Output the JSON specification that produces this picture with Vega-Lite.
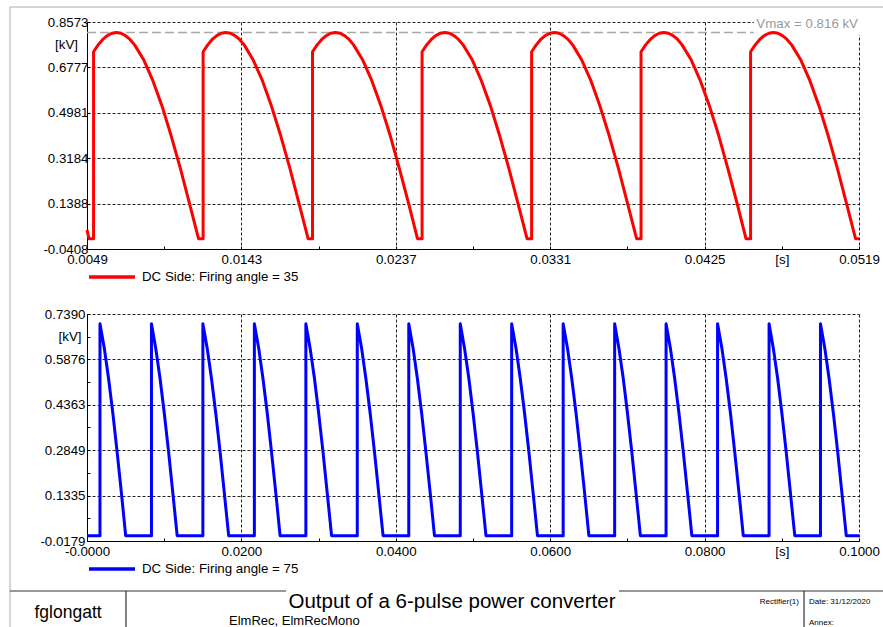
{
  "$schema": "https://vega.github.io/schema/vega-lite/v6.json",
  "padding": {"left": 9, "top": 6, "right": 0, "bottom": 0},
  "background": "white",
  "spacing": 65,
  "bounds": "flush",
  "resolve": {
    "scale": {"x": "independent", "y": "independent", "color": "independent"},
    "axis": {"x": "independent", "y": "independent"},
    "legend": {"color": "independent"}
  },
  "config": {
    "view": {"stroke": null},
    "font": "Liberation Sans",
    "axis": {
      "title": null, "domainColor": "#000", "domainWidth": 1,
      "tickColor": "#000", "tickWidth": 1, "tickSize": -3,
      "labelFont": "Liberation Sans", "labelFontSize": 13.3, "labelColor": "#000",
      "labelOverlap": false, "labelFlush": false, "labelBound": false,
      "grid": true, "gridColor": "#222", "gridDash": [3, 2], "gridWidth": 1
    },
    "axisX": {"labelPadding": 6, "labelBaseline": "top"},
    "legend": {
      "orient": "none", "symbolType": "stroke", "symbolSize": 2116, "symbolStrokeWidth": 3.5,
      "labelFont": "Liberation Sans", "labelFontSize": 13.3, "labelColor": "#000",
      "labelOffset": 5, "padding": 0, "title": null
    }
  },
  "vconcat": [
    {
      "width": 772, "height": 227,
      "layer": [
        {
          "data": {"values": [{}]},
          "mark": {"type": "text", "align": "right", "baseline": "middle", "fontSize": 13.3, "color": "#000", "dx": -9},
          "encoding": {
            "x": {"datum": 0.0049, "type": "quantitative"},
            "y": {"datum": 0.7675, "type": "quantitative"},
            "text": {"value": "[kV]"}
          }
        },
        {
          "data": {"values": [{}]},
          "mark": {"type": "rect", "fill": "white"},
          "encoding": {
            "x": {"datum": 0.0455, "type": "quantitative"}, "x2": {"datum": 0.0526},
            "y": {"datum": 0.8055, "type": "quantitative"}, "y2": {"datum": 0.885}
          }
        },
        {
          "data": {"values": [{}]},
          "mark": {"type": "rule", "stroke": "#a8a8a8", "strokeWidth": 1.5, "strokeDash": [9, 4]},
          "encoding": {
            "x": {"datum": 0.0049, "type": "quantitative"}, "x2": {"datum": 0.0455},
            "y": {"datum": 0.816, "type": "quantitative"}
          }
        },
        {
          "data": {"values": [{}]},
          "mark": {"type": "text", "align": "right", "baseline": "middle", "fontSize": 13.3, "color": "#999999", "dx": -1},
          "encoding": {
            "x": {"datum": 0.0519, "type": "quantitative"},
            "y": {"datum": 0.848, "type": "quantitative"},
            "text": {"value": "Vmax = 0.816 kV"}
          }
        },
        {
          "data": {"values": [
            {"t":0.0049,"v":0.035},{"t":0.00502,"v":0},{"t":0.0053,"v":0},
            {"t":0.0053,"v":0.7395},{"t":0.00558,"v":0.7668},{"t":0.00586,"v":0.7882},{"t":0.00613,"v":0.8036},{"t":0.00641,"v":0.8129},{"t":0.00669,"v":0.816},{"t":0.00697,"v":0.8129},{"t":0.00724,"v":0.8036},{"t":0.00752,"v":0.7882},{"t":0.0078,"v":0.7668},{"t":0.00836,"v":0.7067},{"t":0.00891,"v":0.6251},{"t":0.00947,"v":0.5245},{"t":0.01002,"v":0.408},{"t":0.01058,"v":0.2791},{"t":0.01113,"v":0.1417},{"t":0.01169,"v":0},{"t":0.01197,"v":0},
            {"t":0.01197,"v":0.7395},{"t":0.01225,"v":0.7668},{"t":0.01252,"v":0.7882},{"t":0.0128,"v":0.8036},{"t":0.01308,"v":0.8129},{"t":0.01336,"v":0.816},{"t":0.01363,"v":0.8129},{"t":0.01391,"v":0.8036},{"t":0.01419,"v":0.7882},{"t":0.01447,"v":0.7668},{"t":0.01502,"v":0.7067},{"t":0.01558,"v":0.6251},{"t":0.01613,"v":0.5245},{"t":0.01669,"v":0.408},{"t":0.01725,"v":0.2791},{"t":0.0178,"v":0.1417},{"t":0.01836,"v":0},{"t":0.01863,"v":0},
            {"t":0.01863,"v":0.7395},{"t":0.01891,"v":0.7668},{"t":0.01919,"v":0.7882},{"t":0.01947,"v":0.8036},{"t":0.01974,"v":0.8129},{"t":0.02002,"v":0.816},{"t":0.0203,"v":0.8129},{"t":0.02058,"v":0.8036},{"t":0.02086,"v":0.7882},{"t":0.02113,"v":0.7668},{"t":0.02169,"v":0.7067},{"t":0.02224,"v":0.6251},{"t":0.0228,"v":0.5245},{"t":0.02336,"v":0.408},{"t":0.02391,"v":0.2791},{"t":0.02447,"v":0.1417},{"t":0.02502,"v":0},{"t":0.0253,"v":0},
            {"t":0.0253,"v":0.7395},{"t":0.02558,"v":0.7668},{"t":0.02586,"v":0.7882},{"t":0.02613,"v":0.8036},{"t":0.02641,"v":0.8129},{"t":0.02669,"v":0.816},{"t":0.02697,"v":0.8129},{"t":0.02724,"v":0.8036},{"t":0.02752,"v":0.7882},{"t":0.0278,"v":0.7668},{"t":0.02836,"v":0.7067},{"t":0.02891,"v":0.6251},{"t":0.02947,"v":0.5245},{"t":0.03002,"v":0.408},{"t":0.03058,"v":0.2791},{"t":0.03113,"v":0.1417},{"t":0.03169,"v":0},{"t":0.03197,"v":0},
            {"t":0.03197,"v":0.7395},{"t":0.03225,"v":0.7668},{"t":0.03252,"v":0.7882},{"t":0.0328,"v":0.8036},{"t":0.03308,"v":0.8129},{"t":0.03336,"v":0.816},{"t":0.03363,"v":0.8129},{"t":0.03391,"v":0.8036},{"t":0.03419,"v":0.7882},{"t":0.03447,"v":0.7668},{"t":0.03502,"v":0.7067},{"t":0.03558,"v":0.6251},{"t":0.03613,"v":0.5245},{"t":0.03669,"v":0.408},{"t":0.03725,"v":0.2791},{"t":0.0378,"v":0.1417},{"t":0.03836,"v":0},{"t":0.03863,"v":0},
            {"t":0.03863,"v":0.7395},{"t":0.03891,"v":0.7668},{"t":0.03919,"v":0.7882},{"t":0.03947,"v":0.8036},{"t":0.03974,"v":0.8129},{"t":0.04002,"v":0.816},{"t":0.0403,"v":0.8129},{"t":0.04058,"v":0.8036},{"t":0.04086,"v":0.7882},{"t":0.04113,"v":0.7668},{"t":0.04169,"v":0.7067},{"t":0.04224,"v":0.6251},{"t":0.0428,"v":0.5245},{"t":0.04336,"v":0.408},{"t":0.04391,"v":0.2791},{"t":0.04447,"v":0.1417},{"t":0.04502,"v":0},{"t":0.0453,"v":0},
            {"t":0.0453,"v":0.7395},{"t":0.04558,"v":0.7668},{"t":0.04586,"v":0.7882},{"t":0.04613,"v":0.8036},{"t":0.04641,"v":0.8129},{"t":0.04669,"v":0.816},{"t":0.04697,"v":0.8129},{"t":0.04724,"v":0.8036},{"t":0.04752,"v":0.7882},{"t":0.0478,"v":0.7668},{"t":0.04836,"v":0.7067},{"t":0.04891,"v":0.6251},{"t":0.04947,"v":0.5245},{"t":0.05002,"v":0.408},{"t":0.05058,"v":0.2791},{"t":0.05113,"v":0.1417},{"t":0.05169,"v":0},{"t":0.0519,"v":0}
          ]},
          "mark": {"type": "line", "strokeWidth": 3, "strokeJoin": "round"},
          "encoding": {
            "x": {
              "field": "t", "type": "quantitative",
              "scale": {"domain": [0.0049, 0.0519], "nice": false, "zero": false},
              "axis": {
                "values": [0.0049, 0.0096, 0.0143, 0.019, 0.0237, 0.0284, 0.0331, 0.0378, 0.0425, 0.0472, 0.0519],
                "labelExpr": "abs(datum.value - 0.0472) < 0.00001 ? '[s]' : (indexof([0.0049, 0.0143, 0.0237, 0.0331, 0.0425, 0.0519], datum.value) >= 0 ? format(datum.value, '.4f') : '')",
                "gridOpacity": {"condition": {"test": "indexof([0.0049, 0.0143, 0.0237, 0.0331, 0.0425, 0.0519], datum.value) < 0", "value": 0}, "value": 1}
              }
            },
            "y": {
              "field": "v", "type": "quantitative",
              "scale": {"domain": [-0.0408, 0.8573], "nice": false, "zero": false},
              "axis": {
                "values": [0.8573, 0.7675, 0.6777, 0.5879, 0.4981, 0.4083, 0.3184, 0.2286, 0.1388, 0.049, -0.0408],
                "labelExpr": "indexof([0.8573, 0.6777, 0.4981, 0.3184, 0.1388, -0.0408], datum.value) >= 0 ? (datum.value < 0 ? '-' : '') + format(abs(datum.value), '.4f') : ''",
                "gridOpacity": {"condition": {"test": "indexof([0.8573, 0.6777, 0.4981, 0.3184, 0.1388, -0.0408], datum.value) < 0", "value": 0}, "value": 1}
              }
            },
            "order": {"value": null},
            "color": {
              "datum": "DC Side: Firing angle = 35", "type": "nominal",
              "scale": {"range": ["#ff0000"]},
              "legend": {"legendX": 0, "legendY": 230}
            }
          }
        }
      ]
    },
    {
      "width": 772, "height": 227,
      "data": {"values": [
        {"t":0,"v":0},
        {"t":0.00168,"v":0},{"t":0.00168,"v":0.7067},{"t":0.00224,"v":0.6251},{"t":0.00279,"v":0.5245},{"t":0.00335,"v":0.408},{"t":0.0039,"v":0.2791},{"t":0.00446,"v":0.1417},{"t":0.00501,"v":0},
        {"t":0.00835,"v":0},{"t":0.00835,"v":0.7067},{"t":0.0089,"v":0.6251},{"t":0.00946,"v":0.5245},{"t":0.01001,"v":0.408},{"t":0.01057,"v":0.2791},{"t":0.01112,"v":0.1417},{"t":0.01168,"v":0},
        {"t":0.01501,"v":0},{"t":0.01501,"v":0.7067},{"t":0.01557,"v":0.6251},{"t":0.01612,"v":0.5245},{"t":0.01668,"v":0.408},{"t":0.01724,"v":0.2791},{"t":0.01779,"v":0.1417},{"t":0.01835,"v":0},
        {"t":0.02168,"v":0},{"t":0.02168,"v":0.7067},{"t":0.02224,"v":0.6251},{"t":0.02279,"v":0.5245},{"t":0.02335,"v":0.408},{"t":0.0239,"v":0.2791},{"t":0.02446,"v":0.1417},{"t":0.02501,"v":0},
        {"t":0.02835,"v":0},{"t":0.02835,"v":0.7067},{"t":0.0289,"v":0.6251},{"t":0.02946,"v":0.5245},{"t":0.03001,"v":0.408},{"t":0.03057,"v":0.2791},{"t":0.03112,"v":0.1417},{"t":0.03168,"v":0},
        {"t":0.03501,"v":0},{"t":0.03501,"v":0.7067},{"t":0.03557,"v":0.6251},{"t":0.03612,"v":0.5245},{"t":0.03668,"v":0.408},{"t":0.03724,"v":0.2791},{"t":0.03779,"v":0.1417},{"t":0.03835,"v":0},
        {"t":0.04168,"v":0},{"t":0.04168,"v":0.7067},{"t":0.04224,"v":0.6251},{"t":0.04279,"v":0.5245},{"t":0.04335,"v":0.408},{"t":0.0439,"v":0.2791},{"t":0.04446,"v":0.1417},{"t":0.04501,"v":0},
        {"t":0.04835,"v":0},{"t":0.04835,"v":0.7067},{"t":0.0489,"v":0.6251},{"t":0.04946,"v":0.5245},{"t":0.05001,"v":0.408},{"t":0.05057,"v":0.2791},{"t":0.05112,"v":0.1417},{"t":0.05168,"v":0},
        {"t":0.05501,"v":0},{"t":0.05501,"v":0.7067},{"t":0.05557,"v":0.6251},{"t":0.05612,"v":0.5245},{"t":0.05668,"v":0.408},{"t":0.05724,"v":0.2791},{"t":0.05779,"v":0.1417},{"t":0.05835,"v":0},
        {"t":0.06168,"v":0},{"t":0.06168,"v":0.7067},{"t":0.06224,"v":0.6251},{"t":0.06279,"v":0.5245},{"t":0.06335,"v":0.408},{"t":0.0639,"v":0.2791},{"t":0.06446,"v":0.1417},{"t":0.06501,"v":0},
        {"t":0.06835,"v":0},{"t":0.06835,"v":0.7067},{"t":0.0689,"v":0.6251},{"t":0.06946,"v":0.5245},{"t":0.07001,"v":0.408},{"t":0.07057,"v":0.2791},{"t":0.07112,"v":0.1417},{"t":0.07168,"v":0},
        {"t":0.07501,"v":0},{"t":0.07501,"v":0.7067},{"t":0.07557,"v":0.6251},{"t":0.07612,"v":0.5245},{"t":0.07668,"v":0.408},{"t":0.07724,"v":0.2791},{"t":0.07779,"v":0.1417},{"t":0.07835,"v":0},
        {"t":0.08168,"v":0},{"t":0.08168,"v":0.7067},{"t":0.08224,"v":0.6251},{"t":0.08279,"v":0.5245},{"t":0.08335,"v":0.408},{"t":0.0839,"v":0.2791},{"t":0.08446,"v":0.1417},{"t":0.08501,"v":0},
        {"t":0.08835,"v":0},{"t":0.08835,"v":0.7067},{"t":0.0889,"v":0.6251},{"t":0.08946,"v":0.5245},{"t":0.09001,"v":0.408},{"t":0.09057,"v":0.2791},{"t":0.09112,"v":0.1417},{"t":0.09168,"v":0},
        {"t":0.09501,"v":0},{"t":0.09501,"v":0.7067},{"t":0.09557,"v":0.6251},{"t":0.09612,"v":0.5245},{"t":0.09668,"v":0.408},{"t":0.09724,"v":0.2791},{"t":0.09779,"v":0.1417},{"t":0.09835,"v":0},
        {"t":0.1,"v":0}
      ]},
      "mark": {"type": "line", "strokeWidth": 3, "strokeJoin": "round"},
      "encoding": {
        "x": {
          "field": "t", "type": "quantitative",
          "scale": {"domain": [0, 0.1], "nice": false, "zero": false},
          "axis": {
            "values": [0, 0.01, 0.02, 0.03, 0.04, 0.05, 0.06, 0.07, 0.08, 0.09, 0.1],
            "labelExpr": "datum.value == 0 ? '-0.0000' : (abs(datum.value - 0.09) < 0.00001 ? '[s]' : (indexof([0.02, 0.04, 0.06, 0.08, 0.1], datum.value) >= 0 ? format(datum.value, '.4f') : ''))",
            "gridOpacity": {"condition": {"test": "indexof([0, 0.02, 0.04, 0.06, 0.08, 0.1], datum.value) < 0", "value": 0}, "value": 1}
          }
        },
        "y": {
          "field": "v", "type": "quantitative",
          "scale": {"domain": [-0.0179, 0.739], "nice": false, "zero": false},
          "axis": {
            "values": [0.739, 0.6633, 0.5876, 0.5119, 0.4363, 0.3606, 0.2849, 0.2092, 0.1335, 0.0578, -0.0179],
            "labelExpr": "abs(datum.value - 0.6633) < 0.00001 ? '[kV]' : (indexof([0.739, 0.5876, 0.4363, 0.2849, 0.1335, -0.0179], datum.value) >= 0 ? (datum.value < 0 ? '-' : '') + format(abs(datum.value), '.4f') : '')",
            "labelPadding": {"condition": {"test": "abs(datum.value - 0.6633) < 0.00001", "value": 9}, "value": 5},
            "gridOpacity": {"condition": {"test": "indexof([0.739, 0.5876, 0.4363, 0.2849, 0.1335, -0.0179], datum.value) < 0", "value": 0}, "value": 1}
          }
        },
        "order": {"value": null},
        "color": {
          "datum": "DC Side: Firing angle = 75", "type": "nominal",
          "scale": {"range": ["#0000ff"]},
          "legend": {"legendX": 0, "legendY": 230}
        }
      }
    },
    {
      "width": 772, "height": 22,
      "data": {"values": [{}]},
      "layer": [
        {
          "mark": {"type": "rule", "stroke": "#aaaaaa", "strokeWidth": 1},
          "encoding": {
            "x": {"datum": 0, "type": "quantitative", "scale": {"domain": [0.0881, 0.9714], "nice": false, "zero": false}, "axis": null},
            "x2": {"datum": 1},
            "y": {"datum": 16.7838, "type": "quantitative", "scale": {"domain": [0, 0.5946], "nice": false, "zero": false}, "axis": null}
          }
        },
        {
          "mark": {"type": "rule", "stroke": "#aaaaaa", "strokeWidth": 1},
          "encoding": {
            "x": {"datum": 0, "type": "quantitative"},
            "y": {"datum": 0, "type": "quantitative"}, "y2": {"datum": 16.7838}
          }
        },
        {
          "mark": {"type": "rule", "stroke": "#333333", "strokeWidth": 1.2},
          "encoding": {
            "x": {"datum": 0, "type": "quantitative"}, "x2": {"datum": 0.3158},
            "y": {"datum": 1, "type": "quantitative"}
          }
        },
        {
          "mark": {"type": "rule", "stroke": "#333333", "strokeWidth": 1.2},
          "encoding": {
            "x": {"datum": 0.6968, "type": "quantitative"}, "x2": {"datum": 1},
            "y": {"datum": 1, "type": "quantitative"}
          }
        },
        {
          "mark": {"type": "rule", "stroke": "#333333", "strokeWidth": 1.2},
          "encoding": {
            "x": {"datum": 0.1327, "type": "quantitative"},
            "y": {"datum": 0, "type": "quantitative"}, "y2": {"datum": 1}
          }
        },
        {
          "mark": {"type": "rule", "stroke": "#333333", "strokeWidth": 1.2},
          "encoding": {
            "x": {"datum": 0.9085, "type": "quantitative"},
            "y": {"datum": 0, "type": "quantitative"}, "y2": {"datum": 1}
          }
        },
        {
          "mark": {"type": "text", "align": "center", "baseline": "middle", "fontSize": 17.5, "color": "#000"},
          "encoding": {
            "x": {"datum": 0.0664, "type": "quantitative"},
            "y": {"datum": 0.4054, "type": "quantitative"},
            "text": {"value": "fglongatt"}
          }
        },
        {
          "mark": {"type": "text", "align": "center", "baseline": "middle", "fontSize": 20.5, "color": "#000"},
          "encoding": {
            "x": {"datum": 0.5057, "type": "quantitative"},
            "y": {"datum": 0.6892, "type": "quantitative"},
            "text": {"value": "Output of a 6-pulse power converter"}
          }
        },
        {
          "mark": {"type": "text", "align": "left", "baseline": "middle", "fontSize": 13, "color": "#000"},
          "encoding": {
            "x": {"datum": 0.2506, "type": "quantitative"},
            "y": {"datum": 0.19, "type": "quantitative"},
            "text": {"value": "ElmRec, ElmRecMono"}
          }
        },
        {
          "mark": {"type": "text", "align": "right", "baseline": "middle", "fontSize": 8, "color": "#000"},
          "encoding": {
            "x": {"datum": 0.9027, "type": "quantitative"},
            "y": {"datum": 0.7162, "type": "quantitative"},
            "text": {"value": "Rectifier(1)"}
          }
        },
        {
          "mark": {"type": "text", "align": "left", "baseline": "middle", "fontSize": 8, "color": "#000"},
          "encoding": {
            "x": {"datum": 0.9142, "type": "quantitative"},
            "y": {"datum": 0.7162, "type": "quantitative"},
            "text": {"value": "Date: 31/12/2020"}
          }
        },
        {
          "mark": {"type": "text", "align": "left", "baseline": "middle", "fontSize": 8, "color": "#000"},
          "encoding": {
            "x": {"datum": 0.9142, "type": "quantitative"},
            "y": {"datum": 0.1351, "type": "quantitative"},
            "text": {"value": "Annex:"}
          }
        }
      ]
    }
  ]
}
